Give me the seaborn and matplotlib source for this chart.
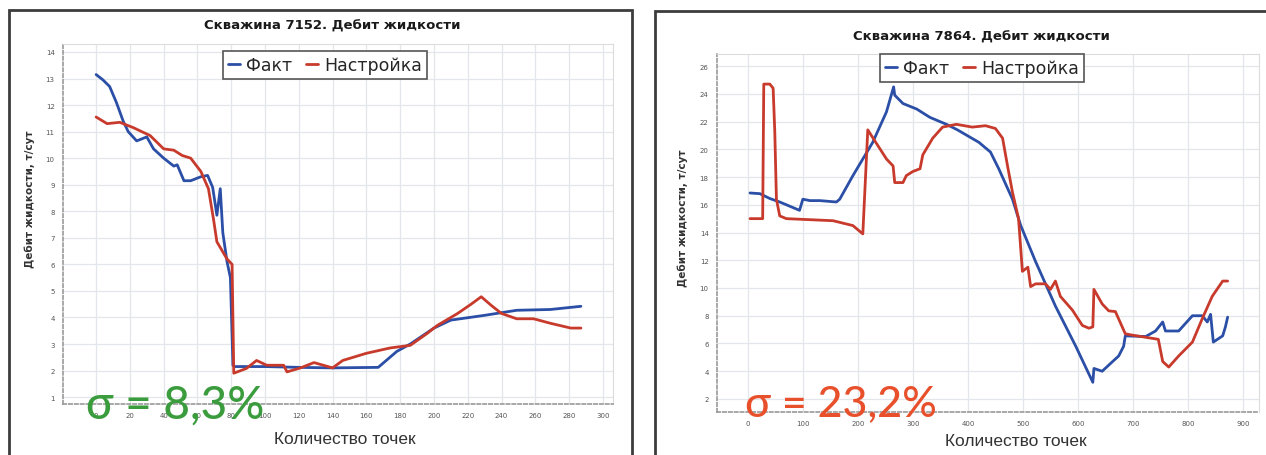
import numpy as np
import pandas as pd
import seaborn as sns
import matplotlib.pyplot as plt
from matplotlib.patches import Rectangle

# well 7152
fact_7152_x = [0, 4, 8, 12, 16, 19, 24, 30, 34, 40, 46, 48, 52, 56, 62, 66, 69, 71.5, 73.5, 75,
               77.5, 79.5, 81, 82, 100, 120, 140, 167, 178, 186, 200, 210, 230, 249, 269, 287]
fact_7152_y = [13.15, 12.95, 12.7, 12.1, 11.4, 11.0, 10.65, 10.8, 10.35, 10.0, 9.7, 9.75, 9.15, 9.15,
               9.3, 9.35, 8.9, 7.85, 8.85, 7.2, 6.1, 5.5, 2.2, 2.15, 2.15, 2.12, 2.1, 2.12, 2.72, 3.0,
               3.6, 3.9, 4.08, 4.27, 4.3, 4.42]
model_7152_x = [0, 6.5, 14, 22, 32, 40, 46, 51, 56, 62, 66.5, 69.5, 71.5, 77.5, 80.5, 81.5, 89, 95,
                101, 111, 113, 121, 129, 140, 146, 160, 174, 186, 196, 202, 214, 222, 228, 234, 240,
                249, 259, 269, 281, 287]
model_7152_y = [11.55, 11.3, 11.35, 11.15, 10.85, 10.35, 10.3, 10.1, 10.0, 9.5, 8.85, 7.7, 6.85, 6.2,
                6.0, 1.9, 2.08, 2.38, 2.2, 2.2, 1.95, 2.1, 2.3, 2.1, 2.38, 2.65, 2.85, 2.95, 3.4, 3.7,
                4.15, 4.5, 4.78, 4.45, 4.15, 3.95, 3.95, 3.78, 3.6, 3.6]

# well 7864
fact_7864_x = [4, 22, 40, 58, 76, 94, 100, 113, 131, 161, 167, 191, 227, 252, 265, 267, 282, 307,
               331, 361, 381, 420, 441, 456, 481, 496, 523, 559, 596, 627, 629, 644, 663, 674, 683,
               686, 723, 741, 754, 759, 783, 808, 826, 835, 841, 846, 863, 868, 872]
fact_7864_y = [16.85, 16.8, 16.45, 16.2, 15.9, 15.6, 16.4, 16.3, 16.3, 16.2, 16.4, 18.1, 20.5, 22.7,
               24.5, 23.9, 23.3, 22.9, 22.3, 21.8, 21.4, 20.5, 19.8, 18.6, 16.4, 14.5, 11.9, 8.7, 5.8,
               3.2, 4.2, 4.0, 4.7, 5.1, 5.8, 6.55, 6.5, 6.9, 7.55, 6.9, 6.9, 8.0, 8.0, 7.55, 8.1, 6.1,
               6.55, 7.2, 7.9]
model_7864_x = [4, 27, 29, 40, 46, 49, 52, 58, 70, 155, 191, 209, 218, 252, 264, 267, 282, 288, 300,
                313, 318, 336, 354, 379, 408, 432, 450, 463, 472, 481, 492, 499, 509, 514, 523, 541,
                550, 559, 568, 590, 608, 620, 627, 629, 644, 656, 668, 686, 699, 746, 754, 765, 783,
                808, 826, 844, 863, 872]
model_7864_y = [15.0, 15.0, 24.7, 24.7, 24.4, 21.3, 16.4, 15.2, 15.0, 14.85, 14.5, 13.9, 21.4, 19.3,
                18.8, 17.6, 17.6, 18.1, 18.4, 18.6, 19.6, 20.8, 21.6, 21.8, 21.6, 21.7, 21.5, 20.8,
                18.8, 16.9, 15.0, 11.2, 11.5, 10.1, 10.3, 10.3, 9.9, 10.5, 9.4, 8.4, 7.3, 7.1, 7.2,
                9.9, 8.85, 8.35, 8.3, 6.7, 6.6, 6.3, 4.7, 4.3, 5.1, 6.1, 7.8, 9.4, 10.5, 10.5]

labels = ["Факт", "Настройка"]
colors = ["#2b4fa6", "#c73a2c"]


def make_df(fx, fy, mx, my):
    return pd.concat([
        pd.DataFrame({"x": fx, "y": fy, "s": labels[0]}),
        pd.DataFrame({"x": mx, "y": my, "s": labels[1]}),
    ])


sns.set_style("whitegrid")
plt.rcParams['font.family'] = ['DejaVu Sans']

W, H = 1266, 456
fig = plt.figure(figsize=(W / 100, H / 100), dpi=100)

# outer frames
fig.patches.append(Rectangle((9 / W, -0.1), (632 - 9) / W, 1.1 - 11 / H, transform=fig.transFigure,
                             fill=False, ec="#3c3c3c", lw=2))
fig.patches.append(Rectangle((655 / W, -0.1), 0.5, 1.1 - 12 / H, transform=fig.transFigure,
                             fill=False, ec="#3c3c3c", lw=2))


def panel(rect_px, df, xlim, ylim, xticks, yticks, title, title_xy, leg_xy, xl_xy, yl_xy,
          sigma, sigma_xy, sigma_color, sigma_size):
    l, t, r, b = rect_px
    ax = fig.add_axes([l / W, 1 - b / H, (r - l) / W, (b - t) / H])
    sns.lineplot(data=df, x="x", y="y", hue="s", palette=colors, estimator=None,
                 sort=False, lw=2, ax=ax)
    ax.set(xlim=xlim, ylim=ylim, xticks=xticks, yticks=yticks)
    ax.grid(True, color="#e3e6ea", lw=0.9)
    ax.tick_params(labelsize=5, colors="#555555", length=2, pad=4)
    for side in ["top", "right"]:
        ax.spines[side].set_color("#dcdcdc")
        ax.spines[side].set_linewidth(0.8)
    for side in ["left", "bottom"]:
        ax.spines[side].set_color("#9a9a9a")
        ax.spines[side].set_linestyle((0, (2, 1.5)))
        ax.spines[side].set_linewidth(1.2)

    ax.set_xlabel("Количество точек", fontsize=12.5, color="#333333", family="Liberation Sans")
    ax.xaxis.set_label_coords((xl_xy[0] - l) / (r - l), (b - xl_xy[1]) / (b - t))
    ax.xaxis.label.set_va("center")
    ax.set_ylabel("Дебит жидкости, т/сут", fontsize=7.5, fontweight="bold", color="#333333")
    ax.yaxis.set_label_coords((yl_xy[0] - l) / (r - l), (b - yl_xy[1]) / (b - t))
    ax.yaxis.label.set_va("center")

    fig.text(title_xy[0] / W, 1 - title_xy[1] / H, title, ha="center", va="center",
             fontsize=9.5, fontweight="semibold", color="#1a1a1a")

    handles, _ = ax.get_legend_handles_labels()
    ax.legend(handles=handles, labels=labels, ncol=2, loc="center",
              bbox_to_anchor=(leg_xy[0] / W, 1 - leg_xy[1] / H), bbox_transform=fig.transFigure,
              fontsize=12.5, handlelength=0.7, handletextpad=0.35, columnspacing=0.8,
              frameon=True, fancybox=False, edgecolor="#555555", framealpha=1,
              borderpad=0.3)
    ax.get_legend().get_frame().set_linewidth(1.2)

    fig.text(sigma_xy[0] / W, 1 - sigma_xy[1] / H, sigma, ha="left", va="baseline",
             fontsize=sigma_size, fontweight="medium", color=sigma_color, family="Lato",
             zorder=10)
    return ax


panel((63, 45, 613, 405), make_df(fact_7152_x, fact_7152_y, model_7152_x, model_7152_y),
      (-19.6, 306), (0.74, 14.3), np.arange(0, 301, 20), np.arange(1, 15, 1),
      "Скважина 7152. Дебит жидкости", (332, 26), (325, 66), (345, 440), (30, 199),
      "σ = 8,3%", (86, 419), "#3a9c3c", 33)

panel((717, 55, 1259, 413), make_df(fact_7864_x, fact_7864_y, model_7864_x, model_7864_y),
      (-56, 929), (1.06, 26.87), np.arange(0, 901, 100), np.arange(2, 27, 2),
      "Скважина 7864. Дебит жидкости", (981, 37), (982, 69), (1016, 442), (683, 218),
      "σ = 23,2%", (745, 416), "#e8502c", 31)

fig.savefig("out.png", dpi=100)
